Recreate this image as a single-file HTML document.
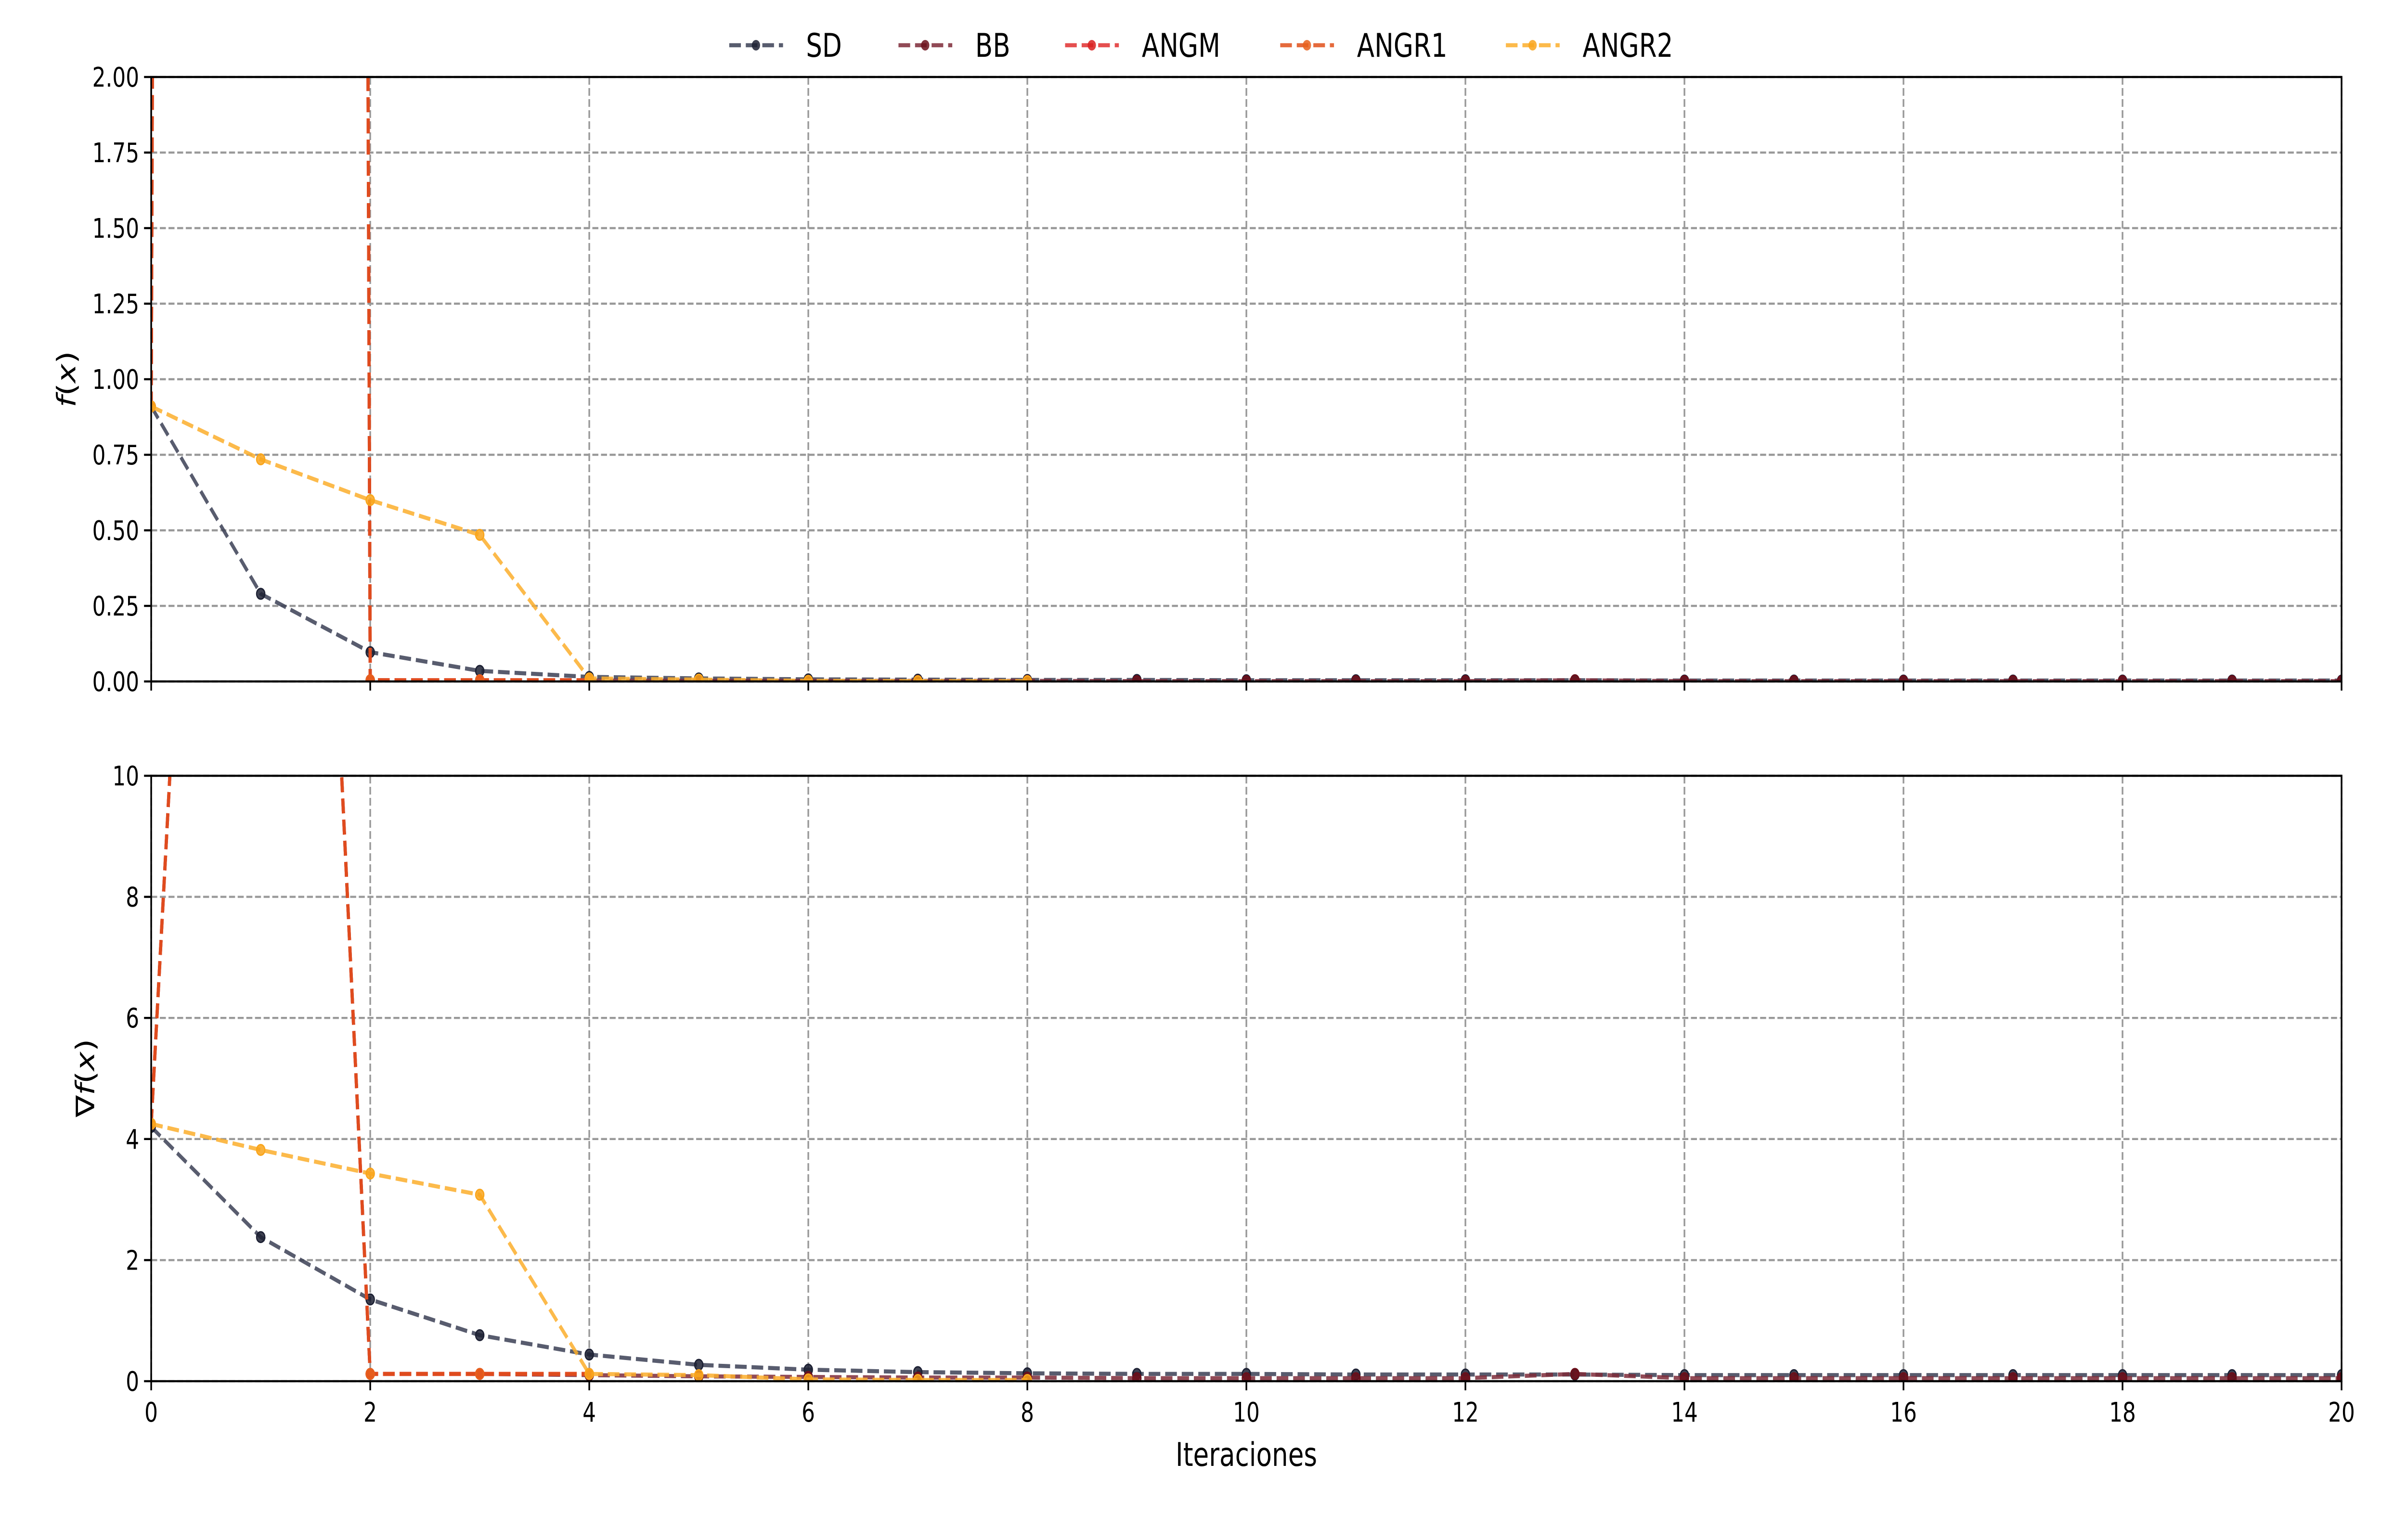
<!DOCTYPE html>
<html><head><meta charset="utf-8"><style>
html,body{margin:0;padding:0;background:#fff;overflow:hidden;width:100%;height:100%;}
svg{display:block;width:100vw;height:100vh;font-family:"DejaVu Sans","Liberation Sans",sans-serif;}
</style></head><body>
<svg id="chart" viewBox="0 0 6400 3200" preserveAspectRatio="none" xmlns="http://www.w3.org/2000/svg">
<defs>
<clipPath id="clipTop"><rect x="402" y="160" width="5824" height="1256"/></clipPath>
<clipPath id="clipBot"><rect x="402" y="1612" width="5824" height="1258"/></clipPath>
</defs>
<g id="legend"></g>
<g id="top"></g>
<g id="bot"></g>
<text x="3314" y="3046" font-size="68" text-anchor="middle">Iteraciones</text>
<text transform="translate(200,788) rotate(-90)" font-size="68" text-anchor="middle"><tspan font-style="italic">f</tspan>(<tspan font-style="italic">x</tspan>)</text>
<text transform="translate(250,2240) rotate(-90)" font-size="68" text-anchor="middle">∇<tspan font-style="italic">f</tspan>(<tspan font-style="italic">x</tspan>)</text>
</svg>
<script>
const seriesNames = ["SD","BB","ANGM","ANGR1","ANGR2"];
const xTicks = [0,2,4,6,8,10,12,14,16,18,20];
const fTicks = [0,0.25,0.5,0.75,1,1.25,1.5,1.75,2];
const fTickLabels = ["0.00","0.25","0.50","0.75","1.00","1.25","1.50","1.75","2.00"];
const gTicks = [0,2,4,6,8,10];
const gTickLabels = ["0","2","4","6","8","10"];
const fSD = [0.91,0.29,0.097,0.035,0.015,0.01,0.007,0.006,0.005,0.005,0.004,0.004,0.004,0.004,0.003,0.003,0.003,0.003,0.003,0.003,0.003];
const fBB = [0.91,100,0.004,0.003,0.003,0.002,0.002,0.002,0.002,0.001,0.001,0.001,0.001,0.004,0.001,0.001,0.001,0.001,0.001,0.001,0.001];
const fANGM = [0.91,100,0.004,0.004,0.004];
const fANGR1 = [0.91,100,0.004,0.004,0.004];
const fANGR2 = [0.91,0.735,0.6,0.485,0.01,0.006,0.002,0.001,0.001];
const gSD = [4.2,2.38,1.35,0.76,0.44,0.27,0.19,0.15,0.13,0.12,0.12,0.11,0.11,0.11,0.1,0.1,0.1,0.1,0.1,0.1,0.1];
const gBB = [4.25,38,0.12,0.12,0.1,0.08,0.07,0.06,0.06,0.05,0.05,0.05,0.05,0.12,0.05,0.05,0.05,0.05,0.05,0.05,0.05];
const gANGM = [4.25,38,0.12,0.12,0.12];
const gANGR1 = [4.25,38,0.12,0.12,0.12];
const gANGR2 = [4.25,3.82,3.43,3.08,0.12,0.1,0.03,0.02,0.02];

const styles = [
 {line:"#3b3f55",mark:"#1c2033"},
 {line:"#7e2a38",mark:"#6b0f1a"},
 {line:"#e03030",mark:"#d91e1e"},
 {line:"#e0501a",mark:"#e8601c"},
 {line:"#fbae2c",mark:"#f9a51b"}
];
const NS="http://www.w3.org/2000/svg";
const L=402,R=6226;
function xs(v){return L+(v-0)/(20-0)*(R-L);}
function mk(tag,attrs,parent){const e=document.createElementNS(NS,tag);for(const k in attrs)e.setAttribute(k,attrs[k]);parent.appendChild(e);return e;}

function panel(gid,top,bottom,ymax,ticks,labels,data,clip,showX,nm){
  const g=document.getElementById(gid);
  const ys=v=>bottom-(v/ymax)*(bottom-top);
  xTicks.forEach(t=>{
    const l=mk("line",{x1:xs(t),x2:xs(t),y1:top,y2:bottom,stroke:"#999","stroke-width":4.4,"stroke-dasharray":"16 7"},g);
    
    
  });
  ticks.forEach(t=>{
    const l=mk("line",{x1:L,x2:R,y1:ys(t),y2:ys(t),stroke:"#999","stroke-width":4.4,"stroke-dasharray":"16 7"},g);
    
    
  });
  const sg=mk("g",{"clip-path":"url(#"+clip+")"},g);
  data.forEach((arr,i)=>{
    const st=styles[i];
    const pts=arr.map((v,k)=>xs(k)+","+ys(v)).join(" ");
    const pl=mk("polyline",{points:pts,fill:"none",stroke:st.line,"stroke-width":8.5,"stroke-opacity":0.85,"stroke-dasharray":"31 13","stroke-linejoin":"round"},sg);
    
    
    arr.forEach((v,k)=>{
      const c=mk("circle",{cx:xs(k),cy:ys(v),r:11,fill:st.mark,"fill-opacity":0.85,stroke:st.mark,"stroke-width":3},sg);
      
      
    });
  });
  const fr=mk("rect",{x:L,y:top,width:R-L,height:bottom-top,fill:"none",stroke:"#000","stroke-width":4.4},g);
  
  
  ticks.forEach((t,k)=>{
    mk("line",{x1:L-19,x2:L,y1:ys(t),y2:ys(t),stroke:"#000","stroke-width":4.4},g);
    const tx=mk("text",{x:L-32,y:ys(t)+20,"font-size":56,"text-anchor":"end"},g);
    tx.textContent=labels[k];
    
    
  });
  xTicks.forEach(t=>{
    mk("line",{x1:xs(t),x2:xs(t),y1:bottom,y2:bottom+19,stroke:"#000","stroke-width":4.4},g);
    if(showX){
      const tx=mk("text",{x:xs(t),y:bottom+84,"font-size":56,"text-anchor":"middle"},g);
      tx.textContent=String(t);
      
      
    }
  });
}
panel("top",160,1416,2,fTicks,fTickLabels,[fSD,fBB,fANGM,fANGR1,fANGR2],"clipTop",false,"f");
panel("bot",1612,2870,10,gTicks,gTickLabels,[gSD,gBB,gANGM,gANGR1,gANGR2],"clipBot",true,"grad");

const lg=document.getElementById("legend");
const lx=[1939,2389,2832,3404,4004];
seriesNames.forEach((n,i)=>{
  const st=styles[i];
  const g=mk("g",{},lg);
  
  
  mk("line",{x1:lx[i],x2:lx[i]+143,y1:94,y2:94,stroke:st.line,"stroke-width":8.5,"stroke-opacity":0.85,"stroke-dasharray":"31 13"},g);
  mk("circle",{cx:lx[i]+71,cy:94,r:11,fill:st.mark,"fill-opacity":0.85},g);
  const t=mk("text",{x:lx[i]+204,y:118,"font-size":68},g);
  t.textContent=n;
});
</script>
</body></html>
